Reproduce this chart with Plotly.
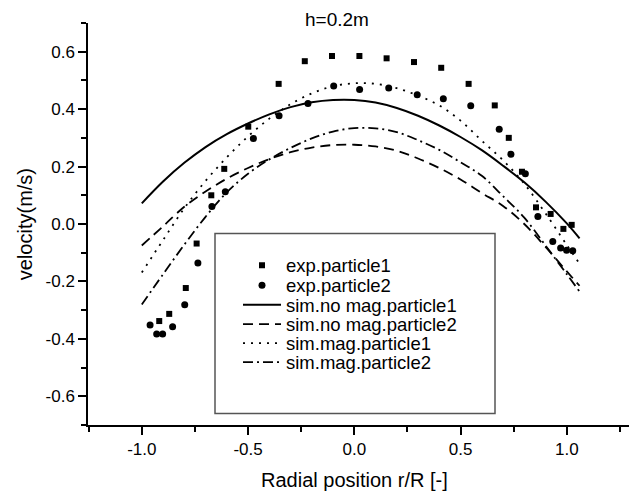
import plotly.graph_objects as go

# ---------------- data ----------------
exp1_x = [-0.918, -0.871, -0.793, -0.742, -0.673, -0.612, -0.499, -0.356, -0.233, -0.105,
          0.024, 0.152, 0.281, 0.409, 0.538, 0.661, 0.727, 0.789, 0.855, 0.924, 0.984, 1.023]
exp1_y = [-0.338, -0.313, -0.223, -0.068, 0.100, 0.192, 0.339, 0.488, 0.567, 0.585,
          0.585, 0.577, 0.564, 0.544, 0.488, 0.413, 0.300, 0.182, 0.058, 0.035, -0.017, -0.003]

exp2_x = [-0.961, -0.930, -0.902, -0.855, -0.798, -0.736, -0.670, -0.607, -0.475, -0.354,
          -0.218, -0.097, 0.025, 0.162, 0.296, 0.419, 0.548, 0.682, 0.737, 0.805,
          0.864, 0.934, 0.971, 0.999, 1.028]
exp2_y = [-0.352, -0.383, -0.383, -0.358, -0.281, -0.136, 0.061, 0.112, 0.298, 0.377,
          0.420, 0.481, 0.468, 0.474, 0.450, 0.436, 0.412, 0.330, 0.243, 0.175,
          0.026, -0.061, -0.084, -0.091, -0.093]

sim_x = [-1.0, -0.9, -0.8, -0.7, -0.6, -0.5, -0.4, -0.3, -0.2, -0.1, 0.0,
         0.1, 0.2, 0.3, 0.4, 0.5, 0.6, 0.7, 0.8, 0.9, 1.0, 1.06]
sim_nomag_p1 = [0.072, 0.148, 0.213, 0.268, 0.313, 0.350, 0.382, 0.407, 0.424, 0.432, 0.432,
                0.423, 0.404, 0.377, 0.343, 0.303, 0.257, 0.203, 0.145, 0.078, 0.002, -0.050]
sim_nomag_p2 = [-0.075, -0.008, 0.060, 0.113, 0.158, 0.195, 0.226, 0.250, 0.266, 0.275, 0.276,
                0.270, 0.255, 0.228, 0.195, 0.155, 0.108, 0.063, 0.000, -0.080, -0.165, -0.215]
sim_mag_p1 = [-0.169, -0.056, 0.055, 0.150, 0.232, 0.305, 0.367, 0.417, 0.455, 0.480, 0.490,
              0.488, 0.473, 0.447, 0.413, 0.360, 0.290, 0.222, 0.140, 0.037, -0.073, -0.138]
sim_mag_p2 = [-0.280, -0.175, -0.072, 0.025, 0.110, 0.175, 0.225, 0.265, 0.298, 0.322, 0.334,
              0.333, 0.320, 0.292, 0.258, 0.215, 0.168, 0.097, 0.022, -0.075, -0.175, -0.235]

x_ticks = [-1.0, -0.5, 0.0, 0.5, 1.0]
x_tick_labels = ["-1.0", "-0.5", "0.0", "0.5", "1.0"]
y_ticks = [-0.6, -0.4, -0.2, 0.0, 0.2, 0.4, 0.6]
y_tick_labels = ["-0.6", "-0.4", "-0.2", "0.0", "0.2", "0.4", "0.6"]

FONT = "Liberation Sans, Arial, sans-serif"

fig = go.Figure()
fig.add_trace(go.Scatter(x=exp1_x, y=exp1_y, mode="markers", name="exp.particle1",
                         marker=dict(symbol="square", size=6, color="black"), legend="legend"))
fig.add_trace(go.Scatter(x=exp2_x, y=exp2_y, mode="markers", name="exp.particle2",
                         marker=dict(symbol="circle", size=7, color="black"), legend="legend2"))
fig.add_trace(go.Scatter(x=sim_x, y=sim_nomag_p1, mode="lines", name="sim.no mag.particle1",
                         line=dict(color="black", width=2, shape="spline"), legend="legend3"))
fig.add_trace(go.Scatter(x=sim_x, y=sim_nomag_p2, mode="lines", name="sim.no mag.particle2",
                         line=dict(color="black", width=1.8, shape="spline", dash="10px,6px"),
                         legend="legend4"))
fig.add_trace(go.Scatter(x=sim_x, y=sim_mag_p1, mode="lines", name="sim.mag.particle1",
                         line=dict(color="black", width=1.8, shape="spline", dash="2px,6px"),
                         legend="legend5"))
fig.add_trace(go.Scatter(x=sim_x, y=sim_mag_p2, mode="lines", name="sim.mag.particle2",
                         line=dict(color="black", width=1.8, shape="spline", dash="10px,4px,2px,4px"),
                         legend="legend6"))

# The page body has an 8px margin; the figure is sized so that it ends at the window edge.
OFF = 8
W, H = 637 - OFF, 493 - OFF
L, R, T, B = 88 - OFF, 0, 22.6 - OFF, 68
pw = W - L - R
ph = H - T - B

def px_x(p):  # page pixel -> paper x
    return (p - OFF - L) / pw

def px_y(p):  # page pixel -> paper y
    return (OFF + H - B - p) / ph

leg_rows = [265.5, 285.5, 305.0, 324.5, 343.5, 362.5]
leg_names = ["legend", "legend2", "legend3", "legend4", "legend5", "legend6"]
leg_common = dict(xanchor="left", yanchor="middle", bgcolor="rgba(0,0,0,0)", borderwidth=0,
                  font=dict(family=FONT, size=18.5, color="black"), itemwidth=38,
                  itemclick=False, itemdoubleclick=False)
layout_legends = {}
for nm, row in zip(leg_names, leg_rows):
    layout_legends[nm] = dict(x=px_x(238), y=px_y(row), **leg_common)

fig.update_layout(
    width=W, height=H,
    margin=dict(l=L, r=R, t=T, b=B),
    paper_bgcolor="white", plot_bgcolor="white",
    font=dict(family=FONT, size=17, color="black"),
    showlegend=True,
    **layout_legends,
)

fig.update_xaxes(
    range=[-1.2532, 1.3304], showgrid=False, zeroline=False,
    showline=True, linecolor="black", linewidth=1.5,
    tickmode="array", tickvals=x_ticks, ticktext=x_tick_labels,
    ticks="outside", ticklen=8, tickwidth=1.5, tickcolor="black",
    tickfont=dict(family=FONT, size=17, color="black"),
    minor=dict(dtick=0.25, tick0=0, ticks="outside", ticklen=5, tickwidth=1.5, tickcolor="black"),
)
fig.update_yaxes(
    range=[-0.7, 0.7], showgrid=False, zeroline=False,
    showline=True, linecolor="black", linewidth=1.5,
    tickmode="array", tickvals=y_ticks, ticktext=y_tick_labels,
    ticks="outside", ticklen=8, tickwidth=1.5, tickcolor="black",
    tickfont=dict(family=FONT, size=17, color="black"),
    minor=dict(dtick=0.1, tick0=0, ticks="outside", ticklen=5, tickwidth=1.5, tickcolor="black"),
)

# legend frame
fig.add_shape(type="rect", xref="paper", yref="paper",
              x0=px_x(215), x1=px_x(495), y0=px_y(413.5), y1=px_y(233.3),
              line=dict(color="#555555", width=1.5), fillcolor="rgba(0,0,0,0)", layer="above")

# title and axis titles
fig.add_annotation(text="h=0.2m", xref="paper", yref="paper", x=px_x(336.7), y=px_y(19),
                   xanchor="center", yanchor="middle", showarrow=False,
                   font=dict(family=FONT, size=19, color="black"))
fig.add_annotation(text="Radial position r/R [-]", xref="x", yref="paper", x=0.0, y=px_y(480),
                   xanchor="center", yanchor="middle", showarrow=False,
                   font=dict(family=FONT, size=20, color="black"))
fig.add_annotation(text="velocity(m/s)", xref="paper", yref="paper", x=px_x(25), y=px_y(224),
                   xanchor="center", yanchor="middle", showarrow=False, textangle=-90,
                   font=dict(family=FONT, size=20, color="black"))

fig.write_html("out.html")
